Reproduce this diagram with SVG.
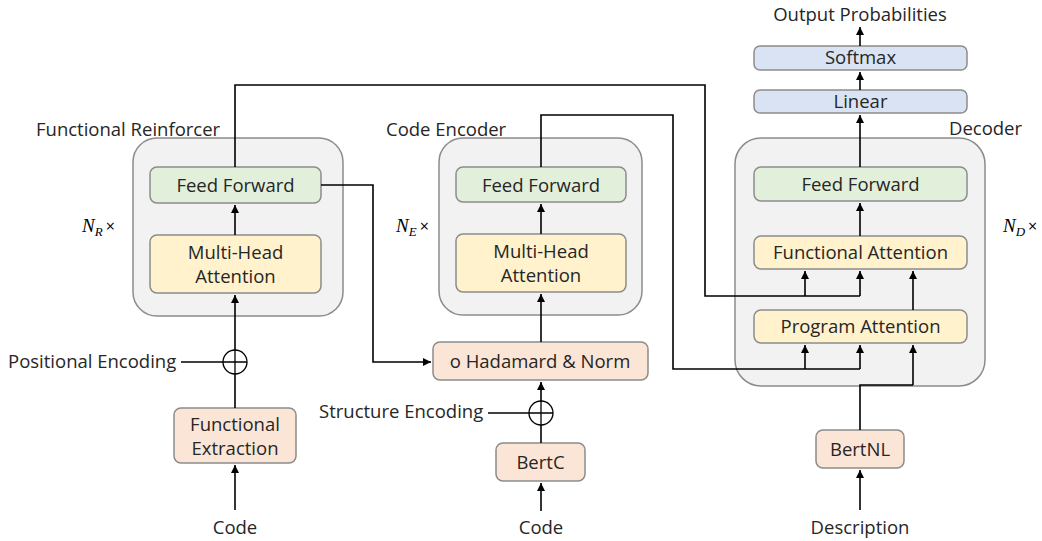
<svg xmlns="http://www.w3.org/2000/svg" width="1042" height="541" viewBox="0 0 1042 541">
<style>
text{font-family:"Open Sans","Noto Sans","Liberation Sans",sans-serif;font-size:18.5px;fill:#262626}
.c{text-anchor:middle}
.box{stroke:#8c8c8c;stroke-width:1.5}
.cont{fill:#f2f2f2;stroke:#8c8c8c;stroke-width:1.5}
.ff{fill:#e2efda}
.att{fill:#fff2cc}
.pe{fill:#fbe5d6}
.bl{fill:#dae3f3}
.ln{fill:none;stroke:#000;stroke-width:1.6}
.ar{fill:none;stroke:#000;stroke-width:1.6;marker-end:url(#ah)}
.m{font-family:"Liberation Serif","DejaVu Serif",serif;font-style:italic;font-size:19px;fill:#000}
.ms{font-family:"Liberation Serif","DejaVu Serif",serif;font-style:italic;font-size:13px;fill:#000}
.x{font-size:16px;fill:#000}
</style>
<defs>
<marker id="ah" markerWidth="10" markerHeight="10" refX="8" refY="4" orient="auto" markerUnits="userSpaceOnUse">
<path d="M0,0 L8,4 L0,8 Z" fill="#000"/>
</marker>
</defs>

<g id="reinforcer">
<rect class="cont" x="133" y="138" width="210" height="178" rx="24"/>
<text x="36" y="136">Functional Reinforcer</text>
<text x="82" y="232"><tspan class="m">N</tspan><tspan class="ms" dy="4">R</tspan><tspan class="x" dy="-4" dx="3">×</tspan></text>
</g>
<g id="fr-ff"><rect class="box ff" x="150" y="167" width="171" height="36" rx="7"/><text class="c" x="235.5" y="192">Feed Forward</text></g>
<g id="fr-mha"><rect class="box att" x="150" y="235" width="171" height="58" rx="7"/><text class="c" x="235.5" y="259">Multi-Head</text><text class="c" x="235.5" y="283">Attention</text></g>
<g id="fr-fe"><rect class="box pe" x="174" y="408" width="122" height="55" rx="7"/><text class="c" x="235" y="431">Functional</text><text class="c" x="235" y="455">Extraction</text></g>
<g id="pos-enc"><text x="8" y="368">Positional Encoding</text><circle cx="235" cy="362" r="12" fill="#fff" stroke="#000" stroke-width="1.3"/><path d="M223,362H247M235,350V374" stroke="#000" stroke-width="1.3"/></g>
<g id="code1"><text class="c" x="235" y="534">Code</text></g>

<g id="encoder">
<rect class="cont" x="439" y="138" width="203" height="177" rx="24"/>
<text x="386" y="136">Code Encoder</text>
<text x="396" y="232"><tspan class="m">N</tspan><tspan class="ms" dy="4">E</tspan><tspan class="x" dy="-4" dx="3">×</tspan></text>
</g>
<g id="ce-ff"><rect class="box ff" x="456" y="167" width="170" height="35" rx="7"/><text class="c" x="541" y="192">Feed Forward</text></g>
<g id="ce-mha"><rect class="box att" x="456" y="234" width="170" height="58" rx="7"/><text class="c" x="541" y="258">Multi-Head</text><text class="c" x="541" y="282">Attention</text></g>
<g id="hadamard"><rect class="box pe" x="433" y="342" width="215" height="38" rx="7"/><text class="c" x="540" y="368">o Hadamard &amp; Norm</text></g>
<g id="struct-enc"><text x="319" y="418">Structure Encoding</text><circle cx="541" cy="413" r="12" fill="#fff" stroke="#000" stroke-width="1.3"/><path d="M529,413H553M541,401V425" stroke="#000" stroke-width="1.3"/></g>
<g id="bertc"><rect class="box pe" x="496" y="443" width="89" height="38" rx="7"/><text class="c" x="540.5" y="469">BertC</text></g>
<g id="code2"><text class="c" x="541" y="534">Code</text></g>

<g id="decoder">
<rect class="cont" x="735" y="138" width="250" height="248" rx="26"/>
<text x="949" y="135">Decoder</text>
<text x="1003" y="232"><tspan class="m">N</tspan><tspan class="ms" dy="4">D</tspan><tspan class="x" dy="-4" dx="3">×</tspan></text>
</g>
<g id="dec-ff"><rect class="box ff" x="754" y="167" width="213" height="34" rx="7"/><text class="c" x="860.5" y="191">Feed Forward</text></g>
<g id="dec-fa"><rect class="box att" x="754" y="236" width="213" height="33" rx="7"/><text class="c" x="860.5" y="259">Functional Attention</text></g>
<g id="dec-pa"><rect class="box att" x="754" y="310" width="213" height="33" rx="7"/><text class="c" x="860.5" y="333">Program Attention</text></g>
<g id="linear"><rect class="box bl" x="754" y="90" width="213" height="23" rx="6"/><text class="c" x="860.5" y="108">Linear</text></g>
<g id="softmax"><rect class="box bl" x="754" y="46" width="213" height="24" rx="6"/><text class="c" x="860.5" y="64">Softmax</text></g>
<g id="outprob"><text class="c" x="860" y="21">Output Probabilities</text></g>
<g id="bertnl"><rect class="box pe" x="816" y="430" width="88" height="38" rx="7"/><text class="c" x="860" y="456">BertNL</text></g>
<g id="desc"><text class="c" x="860" y="534">Description</text></g>

<g id="connectors">
<path class="ar" d="M235,510V465"/>
<path class="ln" d="M235,408V374"/>
<path class="ln" d="M181,362H223"/>
<path class="ar" d="M235,350V295"/>
<path class="ar" d="M235,235V205"/>
<path class="ln" d="M235,167V85H705V296H860"/>
<path class="ar" d="M805,296V271"/>
<path class="ar" d="M860,296V271"/>
<path class="ar" d="M321,185H373V362H431"/>
<path class="ar" d="M541,511V483"/>
<path class="ln" d="M541,443V425"/>
<path class="ln" d="M488,413H529"/>
<path class="ar" d="M541,401V382"/>
<path class="ar" d="M541,342V294"/>
<path class="ar" d="M541,234V204"/>
<path class="ln" d="M541,167V115H673V369H860"/>
<path class="ar" d="M805,369V345"/>
<path class="ar" d="M860,369V345"/>
<path class="ar" d="M860,510V470"/>
<path class="ln" d="M860,430V385H913"/>
<path class="ar" d="M913,385V345"/>
<path class="ar" d="M913,310V271"/>
<path class="ar" d="M860,236V203"/>
<path class="ar" d="M860,167V115"/>
<path class="ar" d="M860,90V72"/>
<path class="ar" d="M860,46V27"/>
</g>
</svg>
